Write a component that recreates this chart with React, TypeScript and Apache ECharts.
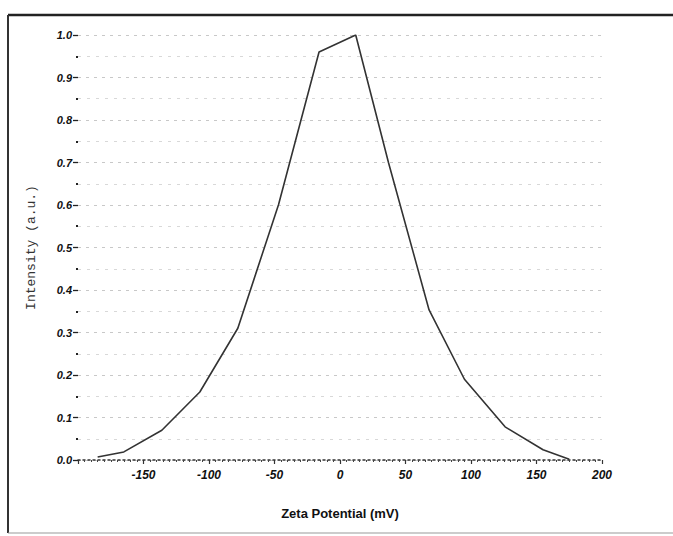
import React, { useEffect, useRef } from "react";
import * as echarts from "echarts";

const zetaMv = [-185, -165, -136, -107, -78, -47, -16, 12, 37, 68, 95, 126, 155, 175];
const intensity = [0.007, 0.019, 0.07, 0.16, 0.31, 0.6, 0.96, 1.0, 0.7, 0.353, 0.19, 0.078, 0.024, 0.002];
const xAxisTitle = "Zeta Potential (mV)";
const yAxisTitle = "Intensity (a.u.)";

export default function App() {
  const ref = useRef<HTMLDivElement>(null);
  useEffect(() => {
    if (!ref.current) return;
    const chart = echarts.init(ref.current, null, { renderer: "svg" });
    const data = zetaMv.map((x, i) => [x, intensity[i]]);
    chart.setOption({
      animation: false,
      backgroundColor: "#ffffff",
      grid: { left: 78, right: 71, top: 35, bottom: 76, containLabel: false },
      xAxis: {
        type: "value",
        min: -200,
        max: 200,
        interval: 50,
        name: xAxisTitle,
        nameLocation: "middle",
        nameGap: 47,
        nameTextStyle: {
          fontFamily: "Liberation Sans Narrow, Arial Narrow, Liberation Sans, sans-serif",
          fontWeight: "bold",
          fontSize: 13,
          color: "#111",
        },
        axisLine: { show: true, onZero: false, lineStyle: { color: "#333", width: 1.5, type: [2, 3] } },
        axisTick: { show: true, length: 4, inside: false, lineStyle: { color: "#333", width: 1.2 } },
        minorTick: { show: true, splitNumber: 10, length: 2, lineStyle: { color: "#444", width: 1 } },
        splitLine: { show: false },
        axisLabel: {
          margin: 9,
          fontFamily: "Liberation Sans, Arial, sans-serif",
          fontWeight: "bold",
          fontStyle: "italic",
          fontSize: 12,
          color: "#111",
          formatter: (v: number) => (v === -200 ? "" : String(v)),
        },
      },
      yAxis: {
        type: "value",
        min: 0,
        max: 1.0,
        interval: 0.1,
        name: yAxisTitle,
        nameLocation: "middle",
        nameGap: 40,
        nameTextStyle: {
          fontFamily: "Liberation Mono, DejaVu Sans Mono, monospace",
          fontSize: 13,
          color: "#333",
        },
        axisLine: { show: false, onZero: false },
        axisTick: { show: true, length: 5, lineStyle: { color: "#222", width: 1.3 } },
        minorTick: { show: true, splitNumber: 2, length: 2, lineStyle: { color: "#222", width: 2 } },
        splitLine: { show: true, lineStyle: { color: "#c8c8c8", type: [3, 5], width: 1 } },
        minorSplitLine: { show: true, lineStyle: { color: "#d8d8d8", type: [3, 6], width: 1 } },
        axisLabel: {
          margin: 6,
          fontFamily: "Liberation Sans, Arial, sans-serif",
          fontWeight: "bold",
          fontStyle: "italic",
          fontSize: 11,
          color: "#111",
          formatter: (v: number) => v.toFixed(1),
        },
      },
      series: [
        {
          type: "line",
          data,
          showSymbol: false,
          symbol: "none",
          lineStyle: { color: "#333", width: 1.6 },
        },
      ],
      graphic: [
        { type: "line", shape: { x1: 8, y1: 15, x2: 673, y2: 15 }, style: { stroke: "#222", lineWidth: 2.5 } },
        { type: "line", shape: { x1: 8, y1: 15, x2: 8, y2: 533 }, style: { stroke: "#333", lineWidth: 2 } },
        { type: "line", shape: { x1: 8, y1: 533, x2: 673, y2: 533 }, style: { stroke: "#999", lineWidth: 1 } },
      ],
    });
    return () => chart.dispose();
  }, []);
  return (
    <div
      ref={ref}
      style={{ position: "fixed", left: 0, top: 0, width: 673, height: 536 }}
    />
  );
}
